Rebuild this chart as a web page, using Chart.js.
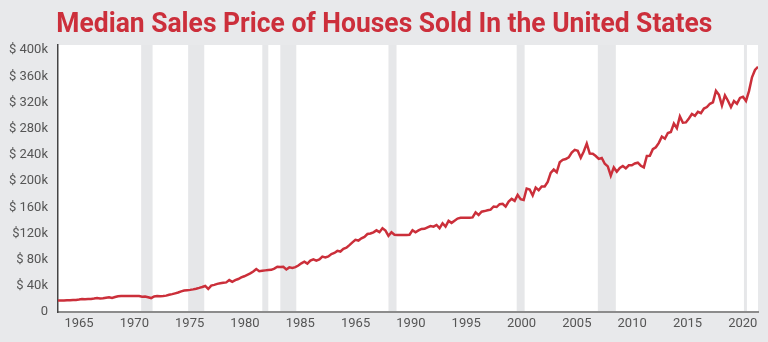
<!DOCTYPE html>
<html>
<head>
<meta charset="utf-8">
<script src="https://cdn.jsdelivr.net/npm/chart.js@4.4.1/dist/chart.umd.min.js"></script>
<style>
  html, body { margin: 0; padding: 0; background: #e8e9eb; }
  #wrap { position: relative; width: 768px; height: 342px; overflow: hidden; }
  #title {
    position: absolute; top: 9px; left: 0; width: 768px; margin: 0;
    text-align: center; font-family: Roboto, sans-serif; font-weight: 700;
    font-size: 28px; line-height: 28px; color: #cc2f3b; white-space: nowrap;
  }
  #title span { display: inline-block; transform-origin: center; }
  #chart { position: absolute; left: 0; top: 0; }
</style>
</head>
<body>
<div id="wrap">
  <canvas id="chart" width="768" height="342"></canvas>
  <h1 id="title"><span>Median Sales Price of Houses Sold In the United States</span></h1>
</div>
<script>
// Precio mediano trimestral, miles de USD, desde 1963 T1
const startYear = 1963;
const prices = [
  17.4, 17.6, 17.5, 18.0,   // 1963
  18.1, 18.5, 18.5, 19.0,
  19.7, 19.4, 19.8, 19.9,
  20.5, 21.4, 20.6, 21.0,
  21.8, 22.6, 21.5, 22.9,
  24.0, 24.4, 24.5, 24.5,
  24.6, 24.6, 24.5, 24.4,
  23.4, 23.6, 22.6, 21.3,   // 1970
  23.8, 24.3, 24.2, 24.5,
  25.0, 26.4, 27.3, 28.5,
  29.8, 31.5, 32.8, 33.3,
  33.8, 34.6, 35.6, 36.8,
  38.2, 39.8, 35.2, 40.4,
  41.5, 43.0, 43.8, 44.6,
  45.2, 48.8, 46.0, 48.6,
  50.4, 52.8, 54.6, 56.8,
  59.0, 61.8, 65.6, 62.2,
  63.0, 63.6, 64.2, 64.4,   // 1980
  66.4, 69.2, 68.6, 69.0,
  65.0, 68.2, 67.4, 68.6,
  71.0, 74.4, 77.0, 74.0,
  78.6, 80.6, 78.4, 80.2,
  84.6, 83.4, 85.0, 88.6,
  90.2, 93.4, 92.4, 96.4,
  98.4, 102.2, 106.4, 110.2,
  109.2, 112.6, 114.8, 119.2,
  120.0, 121.8, 124.8, 122.0,
  128.0, 124.4, 116.4, 121.8, // 1990
  118.0, 117.6, 117.6, 117.6,
  117.8, 118.0, 125.0, 121.8,
  124.6, 127.0, 127.2, 129.4,
  131.4, 130.4, 133.0, 128.2,
  135.6, 130.4, 139.2, 136.2,
  139.6, 142.8, 144.0, 144.0,
  144.0, 144.2, 144.6, 152.2,
  148.2, 153.2, 154.2, 155.4,
  156.4, 161.2, 160.4, 164.8,
  165.3, 161.0, 168.8, 172.9, // 2000
  169.8, 179.0, 172.5, 171.1,
  188.7, 187.2, 178.1, 190.1,
  186.0, 191.8, 191.9, 198.8,
  212.7, 217.6, 213.5, 228.8,
  232.5, 233.7, 236.4, 243.6,
  247.7, 246.3, 235.6, 245.4,
  257.4, 242.2, 241.8, 238.4,
  233.9, 235.3, 226.5, 222.5,
  208.4, 220.9, 214.3, 220.0,
  223.0, 219.5, 224.1, 224.3, // 2010
  226.9, 228.1, 223.5, 221.1,
  238.4, 238.7, 248.8, 251.7,
  258.4, 268.1, 264.8, 273.6,
  275.2, 288.0, 281.0, 298.9,
  289.2, 289.7, 295.8, 302.5,
  299.8, 306.0, 303.8, 310.9,
  313.1, 318.2, 320.5, 337.9,
  331.8, 315.6, 330.9, 322.8,
  313.0, 322.5, 318.4, 327.1,
  329.0, 322.6, 337.5, 358.7, // 2020
  369.8, 374.7
];

// Recesiones (inicio, fin) en años decimales
const recessions = [
  [1969.92, 1970.87], [1973.83, 1975.17], [1980.0, 1980.5], [1981.5, 1982.83],
  [1990.5, 1991.17], [2001.17, 2001.83], [2007.92, 2009.42], [2020.08, 2020.33]
];

// Etiquetas tal cual aparecen en el gráfico original
const xTickLabels = ['1965', '1970', '1975', '1980', '1985', '1965', '1990', '1995', '2000', '2005', '2010', '2015', '2020'];
const yTickLabels = ['0', '$ 40k', '$ 80k', '$120k', '$ 160k', '$ 200k', '$ 240k', '$ 280k', '$ 320k', '$ 360k', '$ 400k'];

const points = prices.map((v, i) => ({ x: startYear + i / 4, y: v }));

// Fondo blanco del área + bandas grises de recesión
const plotBackground = {
    id: 'plotBackground',
    beforeDraw(chart) {
        const { ctx, chartArea: a, scales } = chart;
        ctx.save();
        ctx.fillStyle = '#ffffff';
        ctx.fillRect(a.left, a.top, a.right - a.left, a.bottom - a.top);
        ctx.fillStyle = '#e6e7e9';
        recessions.forEach(([s, e]) => {
            const x1 = scales.x.getPixelForValue(s);
            const x2 = scales.x.getPixelForValue(e);
            ctx.fillRect(x1, a.top, x2 - x1, a.bottom - a.top);
        });
        ctx.restore();
    }
};

const tickFont = { family: 'Roboto', size: 13 };

new Chart(document.getElementById('chart').getContext('2d'), {
    type: 'line',
    data: {
        datasets: [{
            data: points,
            borderColor: '#cb2f3a',
            borderWidth: 2.5,
            pointRadius: 0,
            tension: 0,
            fill: false
        }]
    },
    options: {
        responsive: false,
        animation: false,
        layout: { padding: { top: 45, right: 10, left: 0, bottom: 0 } },
        plugins: {
            legend: { display: false },
            tooltip: { enabled: false }
        },
        scales: {
            x: {
                type: 'linear',
                min: startYear,
                max: startYear + (prices.length - 1) / 4,
                grid: { display: false, drawTicks: false },
                border: { color: '#8c8c8c', width: 2 },
                afterBuildTicks: scale => {
                    // las etiquetas del original no coinciden con los años reales
                    scale.ticks = xTickLabels.map((_, i) => ({ value: 1964.75 + i * 4.603 }));
                },
                afterFit: scale => { scale.height = 30; },
                ticks: {
                    autoSkip: false,
                    maxRotation: 0,
                    padding: 4,
                    color: '#555',
                    font: tickFont,
                    callback: (v, i) => xTickLabels[i]
                }
            },
            y: {
                min: 0,
                max: 408,
                grid: { display: false, drawTicks: false },
                border: { color: '#444', width: 1.5 },
                afterBuildTicks: scale => {
                    scale.ticks = yTickLabels.map((_, i) => ({ value: i * 40 }));
                },
                afterFit: scale => { scale.width = 58; },
                ticks: {
                    padding: 10,
                    color: '#555',
                    font: tickFont,
                    callback: (v, i) => yTickLabels[i]
                }
            }
        }
    },
    plugins: [plotBackground]
});

// Ajustar el ancho del título (fuente condensada en el original)
const span = document.querySelector('#title span');
const w = span.getBoundingClientRect().width;
span.style.transform = 'scaleX(' + (656 / w) + ')';
</script>
</body>
</html>
